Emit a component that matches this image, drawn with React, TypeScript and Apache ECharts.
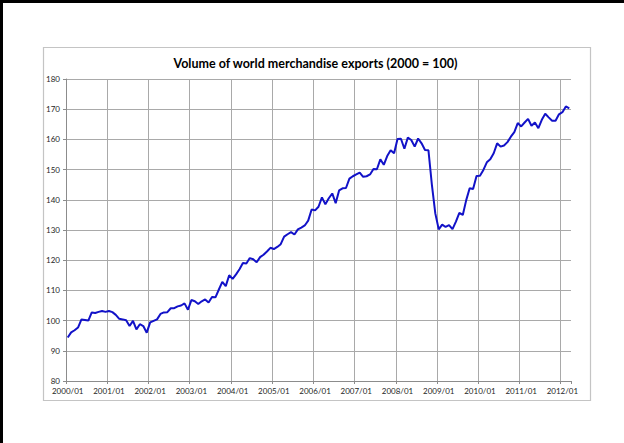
import React, { useEffect, useRef } from "react";
import * as echarts from "echarts";

// Monthly export volume index, 2000/01 .. 2012/03 (2000 = 100)
const exportVolume: number[] = [
  94.4, 96.1, 96.8, 97.7, 100.4, 100.2, 100.0, 102.7, 102.5, 102.9, 103.2, 102.9,
  103.2, 102.8, 101.9, 100.6, 100.4, 100.1, 98.2, 99.9, 97.1, 98.8, 98.2, 96.0,
  99.4, 99.9, 100.4, 102.2, 102.7, 102.8, 104.1, 104.1, 104.7, 105.0, 105.7, 103.6,
  106.8, 106.4, 105.5, 106.4, 107.0, 106.0, 107.8, 107.7, 110.3, 112.8, 111.4, 115.0,
  113.8, 115.3, 117.0, 119.1, 118.9, 120.7, 120.3, 119.3, 121.0, 121.8, 122.9, 124.1,
  123.7, 124.4, 125.3, 127.8, 128.6, 129.3, 128.5, 130.2, 130.8, 131.5, 133.1, 136.8,
  136.5, 137.7, 140.8, 138.5, 140.5, 142.1, 138.9, 143.1, 143.8, 143.9, 147.0, 147.8,
  148.4, 149.0, 147.6, 147.8, 148.4, 150.2, 150.1, 153.4, 151.6, 154.5, 156.4, 155.4,
  160.1, 160.2, 156.9, 160.6, 159.8, 157.6, 160.3, 158.7, 156.5, 156.4, 145.0, 135.5,
  130.2, 131.8, 131.0, 131.6, 130.3, 132.8, 135.7, 135.0, 139.9, 143.8, 143.6, 147.9,
  148.0, 149.9, 152.4, 153.4, 155.4, 158.7, 157.6, 158.0, 159.1, 160.9, 162.4, 165.4,
  164.3, 165.6, 166.8, 164.5, 165.6, 163.7, 166.5, 168.5, 167.3, 166.2, 166.2, 168.3,
  169.0, 170.9, 170.3,
];

const firstYear = 2000;
const months: string[] = exportVolume.map(
  (_, i) => `${firstYear + Math.floor(i / 12)}/${String((i % 12) + 1).padStart(2, "0")}`
);

const yMin = 80;
const yMax = 180;
const yStep = 10;

const titleText = "Volume of world merchandise exports (2000 = 100)";

const FONT = "Lato, 'Noto Sans', sans-serif";
const GRID_COLOR = "#a9a9a9";
const AXIS_COLOR = "#8c8c8c";

export default function App() {
  const ref = useRef<HTMLDivElement>(null);

  useEffect(() => {
    if (!ref.current) return;
    const chart = echarts.init(ref.current, null, { renderer: "svg" });

    // one vertical grid line per year boundary; the extra closing line at the
    // right edge of the band axis is left transparent
    const yearLines = Math.ceil(months.length / 12);
    const vColors: string[] = [];
    for (let i = 0; i < yearLines; i++) vColors.push(GRID_COLOR);
    vColors.push("rgba(0,0,0,0)");

    chart.setOption({
      animation: false,
      backgroundColor: "#ffffff",
      textStyle: { fontFamily: FONT },
      grid: { left: 66, top: 79, width: 505, height: 302, containLabel: false },
      graphic: [
        {
          type: "rect",
          silent: true,
          z: -10,
          shape: { x: 43.5, y: 47.5, width: 547, height: 353 },
          style: { fill: "#ffffff", stroke: "#c4c4c4", lineWidth: 1.2 },
        },
        {
          type: "rect",
          silent: true,
          shape: { x: 0, y: 0, width: 624, height: 3 },
          style: { fill: "#000000" },
        },
        {
          type: "rect",
          silent: true,
          shape: { x: 0, y: 0, width: 3, height: 443 },
          style: { fill: "#000000" },
        },
        {
          type: "text",
          silent: true,
          x: 315.5,
          y: 63.5,
          style: {
            text: titleText,
            fill: "#000000",
            font: `bold 12.5px ${FONT}`,
            align: "center",
            verticalAlign: "middle",
          },
        },
      ],
      xAxis: {
        type: "category",
        data: months,
        boundaryGap: true,
        axisLine: { show: true, lineStyle: { color: AXIS_COLOR, width: 1 } },
        axisTick: { show: true, interval: 11, length: 3, lineStyle: { color: AXIS_COLOR } },
        axisLabel: {
          interval: 11,
          fontSize: 8,
          color: "#262626",
          margin: 6,
          fontFamily: FONT,
        },
        splitLine: {
          show: true,
          interval: 11,
          lineStyle: { color: vColors, width: 1 },
        },
      },
      yAxis: {
        type: "value",
        min: yMin,
        max: yMax,
        interval: yStep,
        axisLine: { show: true, lineStyle: { color: AXIS_COLOR, width: 1 } },
        axisTick: { show: true, length: 3, lineStyle: { color: AXIS_COLOR } },
        axisLabel: { fontSize: 8, color: "#262626", margin: 6, fontFamily: FONT },
        splitLine: { show: true, lineStyle: { color: GRID_COLOR, width: 1 } },
      },
      series: [
        {
          type: "line",
          data: exportVolume,
          showSymbol: false,
          symbol: "none",
          lineStyle: { color: "#1212c8", width: 2 },
          itemStyle: { color: "#1212c8" },
        },
      ],
    });

    return () => chart.dispose();
  }, []);

  return (
    <div
      ref={ref}
      style={{ position: "absolute", left: 0, top: 0, width: 624, height: 443 }}
    />
  );
}
